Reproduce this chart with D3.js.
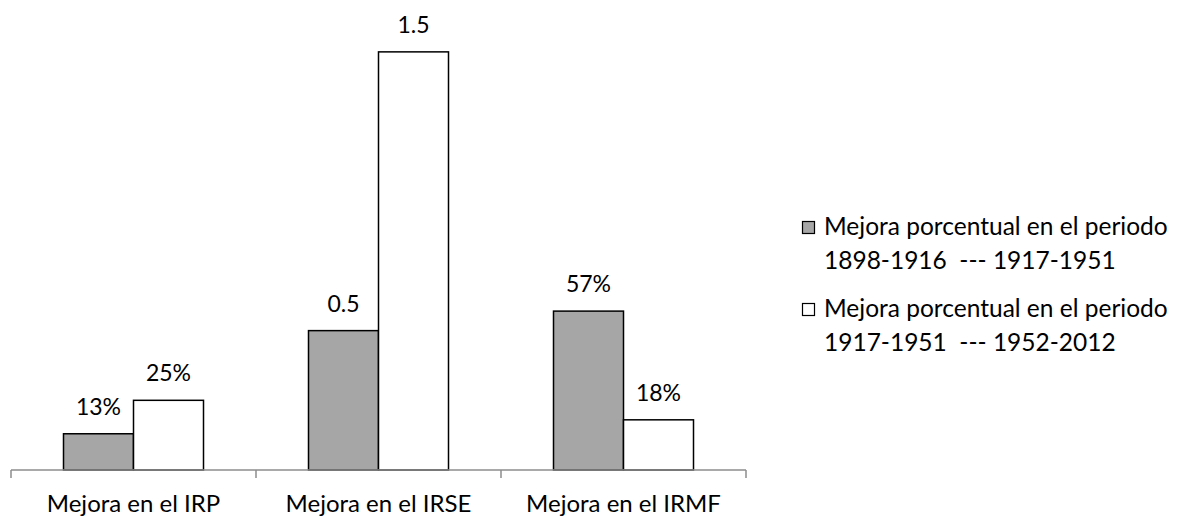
<!DOCTYPE html>
<html>
<head>
<meta charset="utf-8">
<script src="https://cdn.jsdelivr.net/npm/d3@7"></script>
<style>
  html, body { margin: 0; padding: 0; background: #fff; }
  svg { display: block; font-family: Lato, "Open Sans", sans-serif; }
</style>
</head>
<body>
<svg id="chart" width="1179" height="517"></svg>
<script>
// Categories and the two series (improvement ratios)
const categories = ["Mejora en el IRP", "Mejora en el IRSE", "Mejora en el IRMF"];
const seriesNames = [
  ["Mejora porcentual en el periodo", "1898-1916  --- 1917-1951"],
  ["Mejora porcentual en el periodo", "1917-1951  --- 1952-2012"]
];
const firstPeriod  = [0.13, 0.5, 0.57];
const secondPeriod = [0.25, 1.5, 0.18];
const firstLabels  = ["13%", "0.5", "57%"];
const secondLabels = ["25%", "1.5", "18%"];
const seriesFill = ["#a6a6a6", "#ffffff"];

const svg = d3.select("#chart");
const plot = { left: 11, right: 746, top: 24, bottom: 470 };

const x0 = d3.scaleBand().domain(categories).range([plot.left, plot.right]).paddingInner(0).paddingOuter(0);
const x1 = d3.scaleBand().domain([0, 1]).range([0, x0.bandwidth()]).paddingOuter(0.75).paddingInner(0);
const y = d3.scaleLinear().domain([0, 1.6]).range([plot.bottom, plot.top]);

const rows = categories.map((c, i) => ({
  cat: c,
  vals: [
    { s: 0, v: firstPeriod[i], label: firstLabels[i] },
    { s: 1, v: secondPeriod[i], label: secondLabels[i] }
  ]
}));

const groups = svg.selectAll("g.cat").data(rows).join("g")
  .attr("class", "cat")
  .attr("transform", d => `translate(${x0(d.cat)},0)`);

groups.selectAll("rect").data(d => d.vals).join("rect")
  .attr("x", d => x1(d.s))
  .attr("y", d => y(d.v))
  .attr("width", x1.bandwidth())
  .attr("height", d => y(0) - y(d.v))
  .attr("fill", d => seriesFill[d.s])
  .attr("stroke", "#000")
  .attr("stroke-width", 1.5);

groups.selectAll("text.val").data(d => d.vals).join("text")
  .attr("class", "val")
  .attr("x", d => x1(d.s) + x1.bandwidth() / 2)
  .attr("y", d => y(d.v) - 19)
  .attr("text-anchor", "middle")
  .attr("font-size", 23)
  .attr("fill", "#000")
  .text(d => d.label);

// Category axis along the baseline
const xAxis = d3.axisBottom(x0).tickSize(0).tickPadding(0);
const ax = svg.append("g").attr("transform", `translate(0,${plot.bottom})`).call(xAxis);
ax.select(".domain").attr("stroke", "#8c8c8c").attr("stroke-width", 1.5).attr("d", `M${plot.left},0H${plot.right}`);
ax.selectAll(".tick text").attr("font-size", 24).attr("fill", "#000").attr("font-family", "Lato, 'Open Sans', sans-serif")
  .attr("y", 42).attr("dy", 0);

// Tick marks at the band boundaries
const bounds = categories.map(c => x0(c)).concat([plot.right]);
ax.selectAll("line.sep").data(bounds).join("line")
  .attr("class", "sep")
  .attr("x1", d => d).attr("x2", d => d)
  .attr("y1", 0).attr("y2", 8)
  .attr("stroke", "#8c8c8c").attr("stroke-width", 1.5);

// Legend
const legend = svg.append("g").attr("transform", "translate(802,221)");
const entries = legend.selectAll("g").data(seriesNames).join("g")
  .attr("transform", (d, i) => `translate(0,${i * 82})`);
entries.append("rect")
  .attr("x", 0.5).attr("y", 0.5).attr("width", 12).attr("height", 12)
  .attr("fill", (d, i) => seriesFill[i]).attr("stroke", "#000").attr("stroke-width", 1.2);
entries.append("text")
  .attr("x", 22).attr("y", 14)
  .attr("font-size", 24.5).attr("fill", "#000")
  .selectAll("tspan").data(d => d).join("tspan")
  .attr("x", 22).attr("dy", (d, i) => i === 0 ? 0 : 34)
  .attr("xml:space", "preserve")
  .style("white-space", "pre")
  .text(d => d);
</script>
</body>
</html>
